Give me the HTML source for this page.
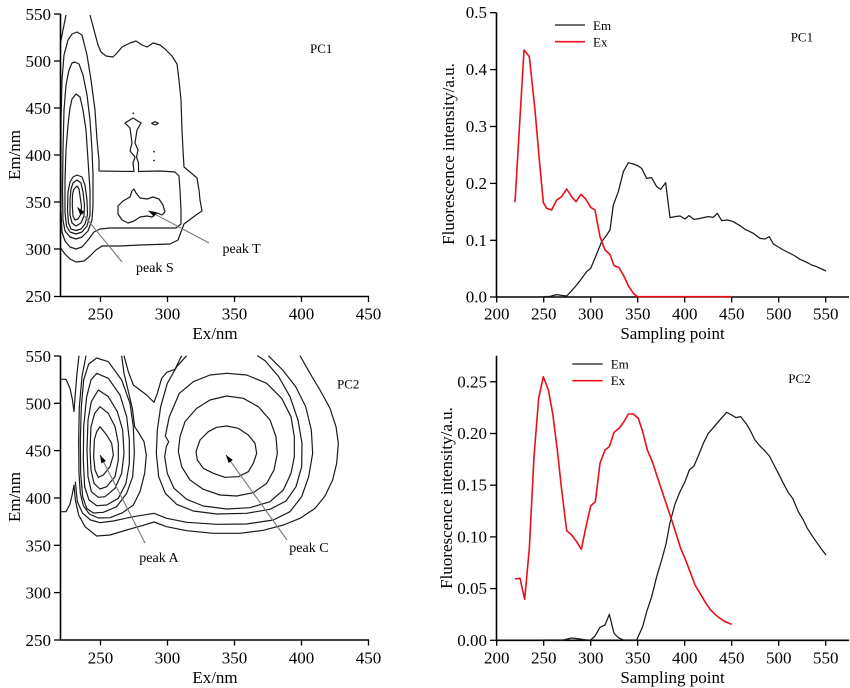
<!DOCTYPE html>
<html><head><meta charset="utf-8"><style>
html,body{margin:0;padding:0;background:#fff;}
svg{display:block;font-family:"Liberation Serif","Times New Roman",serif;}
.c{fill:none;stroke:#1a1a1a;stroke-width:1.2;stroke-linejoin:round;}
.z{fill:none;stroke:#1a1a1a;stroke-width:1.2;vector-effect:non-scaling-stroke;stroke-linejoin:round;}
.ax{stroke:#000;stroke-width:1.6;fill:none;}
.tk{stroke:#000;stroke-width:1.3;}
.bl{fill:none;stroke:#1a1a1a;stroke-width:1.25;vector-effect:non-scaling-stroke;stroke-linejoin:round;}
.rd{fill:none;stroke:#e8101a;stroke-width:1.6;vector-effect:non-scaling-stroke;stroke-linejoin:round;}
.arr{stroke:#777;stroke-width:1.1;fill:none;}
.t17{font-size:17px;fill:#000;}
.t13{font-size:13px;fill:#000;}
.t14{font-size:14px;fill:#000;}
</style></head><body>
<svg width="850" height="688" viewBox="0 0 850 688" xmlns="http://www.w3.org/2000/svg">
<defs>
<marker id="ah" markerUnits="userSpaceOnUse" viewBox="-9 -4 10 8" refX="0" refY="0" markerWidth="10" markerHeight="8" orient="auto-start-reverse">
<path d="M0,0 L-8,-2.6 L-8,2.6 z" fill="#000"/>
</marker>
</defs>

<!-- ===================== TOP-LEFT (PC1 contour) ===================== -->
<g>
<path class="c" d="M60.5,43 L63,30 L66,15"/>
<path class="c" d="M90,15 L94,30 L98,45 L101,52 L106,56 L113,57 L117,53 L122,47 L130,43 L136,41 L142,45 L147,47 L153,43 L160,45 L165,49 L172,56 L177,64 L179,80 L181,100 L182,130 L183,150 L184,167 L190,172 L197,178 L199,190 L200,200 L202,211 L196,215 L184,224 L181,232 L178,240 L170,244 L140,245 L120,246 L102,246 L96,250 L90,256 L84,261 L76,262 L70,259 L65,254 L60.5,248"/>
<path class="c" d="M99,171 L134,171.5 L133,163 L135,157 L130,151 L132,143 L130,128 L125,123 L133,118 L141,123 L137,130 L135,143 L138,150 L136.5,157 L138.5,163 L138.5,171.5 L160,171 L175,172 L179,176 L180,190 L181,210 L181,224 L176,228 L140,228 L110,228 L100,229 L94,232 L88,240 L82,247 L76,249 L70,247 L65,241 L62,232 L61,210 L61,170 L61,120 L62,80 L64,55 L68,40 L72,34 L77,32 L82,35 L87,55 L91,80 L95,110 L97,140 L99,160 Z"/>
<path class="c" d="M75,62 L79,64 L83,75 L87,95 L90,120 L92,150 L93,175 L93,205 L92,220 L88,231 L82,237 L76,239 L70,237 L65,231 L63,220 L62.5,190 L63,150 L64,110 L66,85 L69,70 L72,63 Z"/>
<path class="c" d="M76,94 L80,97 L83,110 L86,130 L88,160 L90,190 L90,215 L87,226 L82,232 L76,234 L70,232 L66.5,226 L65,212 L65,180 L66,150 L68,125 L70,108 L72,99 Z"/>
<path class="c" d="M77,175 L82,177 L85,185 L87,200 L87.5,215 L85,224 L81,229 L76,230.5 L71,229 L68.5,223 L67.5,210 L68,192 L70,182 L73,177 Z"/>
<path class="c" d="M77,180 L81,183 L83,192 L84.5,205 L84,216 L81,223 L76,226 L72,223 L70,215 L70,200 L71,189 L73,183 Z"/>
<path class="c" d="M75,188 L77,186 L79,189 L80,196 L81.5,206 L81,214 L78,219 L75,220 L73,216 L72.3,205 L72.5,195 L73.5,190 Z"/>
<path class="c" d="M118,206 L123,201 L130,197 L132,191 L134,189 L136,193 L140,198 L147,199 L153,197 L159,199 L163,205 L165,212 L162,215 L157,213 L152,217 L147,216 L140,217 L134,221 L128,223 L122,220 L118,214 Z"/>
<path class="c" d="M151.7,123.3 L155,121.7 L158.3,123.3 L155,125 Z"/>
<circle cx="133.3" cy="113.3" r="0.9" fill="#222"/>
<circle cx="154" cy="151.7" r="0.9" fill="#222"/>
<circle cx="154" cy="160.5" r="0.9" fill="#222"/>
<line class="arr" x1="77.3" y1="207.3" x2="122" y2="262" marker-start="url(#ah)"/>
<line class="arr" x1="148.3" y1="210.7" x2="209" y2="243" marker-start="url(#ah)"/>
<text class="t14" x="136" y="272">peak S</text>
<text class="t14" x="222.5" y="253">peak T</text>
<text class="t13" x="310" y="53">PC1</text>
<!-- axes -->
<path class="ax" d="M60.5,14 L60.5,296.5 L369,296.5"/>
<g class="tk">
<line x1="54" y1="14" x2="60.5" y2="14"/><line x1="54" y1="61" x2="60.5" y2="61"/><line x1="54" y1="108" x2="60.5" y2="108"/><line x1="54" y1="155" x2="60.5" y2="155"/><line x1="54" y1="202" x2="60.5" y2="202"/><line x1="54" y1="249" x2="60.5" y2="249"/><line x1="54" y1="296.5" x2="60.5" y2="296.5"/>
<line x1="100.5" y1="296.5" x2="100.5" y2="302"/><line x1="167.5" y1="296.5" x2="167.5" y2="302"/><line x1="234.5" y1="296.5" x2="234.5" y2="302"/><line x1="301.5" y1="296.5" x2="301.5" y2="302"/><line x1="368.5" y1="296.5" x2="368.5" y2="302"/>
</g>
<g class="t17" text-anchor="end">
<text x="51" y="20">550</text><text x="51" y="67">500</text><text x="51" y="114">450</text><text x="51" y="161">400</text><text x="51" y="208">350</text><text x="51" y="255">300</text><text x="51" y="302">250</text>
</g>
<g class="t17" text-anchor="middle">
<text x="100.5" y="319.5">250</text><text x="167.5" y="319.5">300</text><text x="234.5" y="319.5">350</text><text x="301.5" y="319.5">400</text><text x="368.5" y="319.5">450</text>
<text x="215" y="339">Ex/nm</text>
<text transform="translate(20,155) rotate(-90)">Em/nm</text>
</g>
</g>

<!-- ===================== BOTTOM-LEFT (PC2 contour) ===================== -->
<g transform="translate(0,340) scale(0.333333)">
<path class="z" d="M180,118 L198,118 L210,145 L217,178 L222,215 L226,160 L231,100 L237,47"/>
<path class="z" d="M180,515 L198,515 L210,492 L217,462 L222,435 L226,480 L236,525 L255,560 L290,588 L330,585 L380,570 L430,556 L462,546 L500,560 L560,572 L640,580 L720,580 L790,571 L850,555 L900,535 L945,505 L975,468 L998,420 L1010,370 L1015,310 L1008,260 L990,205 L960,150 L930,100 L900,47"/>
<path class="z" d="M226,425 L232,485 L248,520 L272,540 L300,548 L340,543 L400,530 L462,520 L500,535 L560,547 L650,553 L740,552 L820,540 L870,515 L905,470 L926,410 L938,340 L934,270 L917,200 L887,140 L848,90 L805,47"/>
<path class="z" d="M300,260 L320,285 L335,310 L340,345 L330,380 L310,405 L295,412 L285,390 L281,350 L283,300 L290,275 Z"/>
<path class="z" d="M300,200 L325,220 L345,260 L355,310 L355,360 L345,410 L320,440 L300,447 L282,430 L273,390 L270,330 L273,260 L284,220 Z"/>
<path class="z" d="M295,150 L325,170 L352,215 L368,270 L372,340 L365,400 L345,445 L315,470 L295,472 L274,455 L264,410 L261,330 L264,240 L274,185 Z"/>
<path class="z" d="M290,100 L325,115 L360,165 L380,230 L388,300 L388,370 L378,430 L355,475 L320,495 L290,497 L267,480 L254,440 L250,360 L251,260 L260,170 L273,120 Z"/>
<path class="z" d="M290,54 L325,65 L365,120 L390,190 L400,260 L403,340 L398,410 L380,460 L350,500 L310,517 L280,519 L260,505 L248,470 L242,400 L241,300 L244,200 L251,120 L266,72 Z"/>
<path class="z" d="M258,47 L246,110 L238,200 L236,300 L237,400 L241,460 L250,497 L268,522 L295,534 L330,533 L368,518 L400,495 L420,455 L434,400 L439,345 L432,305 L416,278 L404,260 L397,205 L384,150 L372,100 L365,47"/>
<path class="z" d="M372,47 L385,95 L400,135 L420,150 L440,165 L462,187 L472,160 L485,115 L500,97 L525,88 L545,47"/>
<path class="z" d="M680,258 L715,265 L745,285 L765,310 L770,340 L760,370 L745,395 L715,410 L675,412 L640,400 L610,385 L592,360 L588,335 L600,300 L625,275 L650,262 Z"/>
<path class="z" d="M680,168 L730,175 L775,200 L810,240 L828,290 L832,340 L822,390 L800,430 L760,458 L710,468 L660,465 L610,448 L570,420 L545,380 L535,335 L540,290 L555,245 L590,205 L630,180 Z"/>
<path class="z" d="M680,100 L740,105 L800,130 L845,175 L873,230 L883,290 L883,350 L873,400 L850,450 L810,485 L750,503 L680,507 L610,498 L560,478 L522,445 L502,400 L494,350 L499,320 L506,305 L496,288 L508,230 L538,160 L580,125 L630,105 Z"/>
<path class="z" d="M560,47 L530,80 L502,130 L482,200 L472,270 L469,340 L476,410 L496,460 L530,493 L580,513 L650,522 L740,520 L810,508 L858,483 L888,440 L905,380 L906,310 L894,240 L870,170 L836,110 L795,62 L772,47"/>
</g>
<g>
<line class="arr" x1="100" y1="455" x2="145" y2="543" marker-start="url(#ah)"/>
<line class="arr" x1="226" y1="455" x2="287" y2="540" marker-start="url(#ah)"/>
<text class="t14" x="139.3" y="562">peak A</text>
<text class="t14" x="289.3" y="552">peak C</text>
<text class="t13" x="337" y="388.5">PC2</text>
<path class="ax" d="M60.5,356 L60.5,640 L369,640"/>
<g class="tk">
<line x1="54" y1="356" x2="60.5" y2="356"/><line x1="54" y1="403.3" x2="60.5" y2="403.3"/><line x1="54" y1="450.6" x2="60.5" y2="450.6"/><line x1="54" y1="498" x2="60.5" y2="498"/><line x1="54" y1="545.3" x2="60.5" y2="545.3"/><line x1="54" y1="592.6" x2="60.5" y2="592.6"/><line x1="54" y1="640" x2="60.5" y2="640"/>
<line x1="100.5" y1="640" x2="100.5" y2="645.5"/><line x1="167.5" y1="640" x2="167.5" y2="645.5"/><line x1="234.5" y1="640" x2="234.5" y2="645.5"/><line x1="301.5" y1="640" x2="301.5" y2="645.5"/><line x1="368.5" y1="640" x2="368.5" y2="645.5"/>
</g>
<g class="t17" text-anchor="end">
<text x="51" y="362">550</text><text x="51" y="409.3">500</text><text x="51" y="456.6">450</text><text x="51" y="504">400</text><text x="51" y="551.3">350</text><text x="51" y="598.6">300</text><text x="51" y="646">250</text>
</g>
<g class="t17" text-anchor="middle">
<text x="100.5" y="663.5">250</text><text x="167.5" y="663.5">300</text><text x="234.5" y="663.5">350</text><text x="301.5" y="663.5">400</text><text x="368.5" y="663.5">450</text>
<text x="215" y="683">Ex/nm</text>
<text transform="translate(20,497) rotate(-90)">Em/nm</text>
</g>
</g>

<!-- ===================== TOP-RIGHT (PC1 spectra) ===================== -->
<g>
<path class="ax" d="M496.5,12.7 L496.5,297 L849,297"/>
<g class="tk">
<line x1="490" y1="12.7" x2="496.5" y2="12.7"/><line x1="490" y1="69.6" x2="496.5" y2="69.6"/><line x1="490" y1="126.5" x2="496.5" y2="126.5"/><line x1="490" y1="183.4" x2="496.5" y2="183.4"/><line x1="490" y1="240.3" x2="496.5" y2="240.3"/><line x1="490" y1="297" x2="496.5" y2="297"/>
<line x1="496.7" y1="297" x2="496.7" y2="302.5"/><line x1="543.7" y1="297" x2="543.7" y2="302.5"/><line x1="590.7" y1="297" x2="590.7" y2="302.5"/><line x1="637.7" y1="297" x2="637.7" y2="302.5"/><line x1="684.7" y1="297" x2="684.7" y2="302.5"/><line x1="731.7" y1="297" x2="731.7" y2="302.5"/><line x1="778.7" y1="297" x2="778.7" y2="302.5"/><line x1="825.7" y1="297" x2="825.7" y2="302.5"/>
</g>
<g class="t17" text-anchor="end">
<text x="487" y="18.2">0.5</text><text x="487" y="75.1">0.4</text><text x="487" y="132">0.3</text><text x="487" y="188.9">0.2</text><text x="487" y="245.8">0.1</text><text x="487" y="302.5">0.0</text>
</g>
<g class="t17" text-anchor="middle">
<text x="496.7" y="319.5">200</text><text x="543.7" y="319.5">250</text><text x="590.7" y="319.5">300</text><text x="637.7" y="319.5">350</text><text x="684.7" y="319.5">400</text><text x="731.7" y="319.5">450</text><text x="778.7" y="319.5">500</text><text x="825.7" y="319.5">550</text>
<text x="672.5" y="339">Sampling point</text>
<text transform="translate(454,154) rotate(-90)">Fluorescence intensity/a.u.</text>
</g>
<line x1="555" y1="25" x2="585" y2="25" stroke="#1a1a1a" stroke-width="1.2"/>
<line x1="555" y1="41.7" x2="585" y2="41.7" stroke="#e8101a" stroke-width="1.6"/>
<text class="t13" x="593" y="30">Em</text>
<text class="t13" x="593" y="46.5">Ex</text>
<text class="t13" x="790.7" y="41.5">PC1</text>
</g>
<g transform="translate(420,0) scale(0.333333)">
<path class="bl" d="M370,890 L390,889 L410,884 L425,886 L440,888 L455,872 L470,855 L485,835 L500,815 L512,805 L530,762 L545,725 L558,708 L570,690 L580,615 L595,575 L610,515 L625,488 L640,492 L655,498 L665,505 L680,535 L695,533 L710,560 L722,568 L737,548 L750,653 L765,650 L780,648 L795,657 L807,647 L822,658 L837,656 L850,653 L865,650 L880,652 L892,640 L905,662 L922,660 L940,665 L960,677 L975,688 L1000,700 L1020,715 L1035,717 L1048,710 L1060,732 L1090,750 L1120,765 L1140,778 L1160,787 L1175,795 L1190,800 L1218,813"/>
<path class="rd" d="M285,607 L312,150 L328,170 L345,330 L358,480 L370,608 L380,625 L395,630 L410,600 L425,590 L440,567 L455,590 L468,605 L483,583 L497,597 L512,622 L525,630 L540,710 L555,750 L570,763 L582,797 L597,803 L610,825 L625,857 L640,880 L652,890 L935,890"/>
</g>

<!-- ===================== BOTTOM-RIGHT (PC2 spectra) ===================== -->
<g>
<path class="ax" d="M496.5,355.7 L496.5,640.3 L849,640.3"/>
<g class="tk">
<line x1="490" y1="381.8" x2="496.5" y2="381.8"/><line x1="490" y1="433.5" x2="496.5" y2="433.5"/><line x1="490" y1="485.2" x2="496.5" y2="485.2"/><line x1="490" y1="536.9" x2="496.5" y2="536.9"/><line x1="490" y1="588.6" x2="496.5" y2="588.6"/><line x1="490" y1="640.3" x2="496.5" y2="640.3"/>
<line x1="496.7" y1="640.3" x2="496.7" y2="645.8"/><line x1="543.7" y1="640.3" x2="543.7" y2="645.8"/><line x1="590.7" y1="640.3" x2="590.7" y2="645.8"/><line x1="637.7" y1="640.3" x2="637.7" y2="645.8"/><line x1="684.7" y1="640.3" x2="684.7" y2="645.8"/><line x1="731.7" y1="640.3" x2="731.7" y2="645.8"/><line x1="778.7" y1="640.3" x2="778.7" y2="645.8"/><line x1="825.7" y1="640.3" x2="825.7" y2="645.8"/>
</g>
<g class="t17" text-anchor="end">
<text x="487" y="387.3">0.25</text><text x="487" y="439">0.20</text><text x="487" y="490.7">0.15</text><text x="487" y="542.4">0.10</text><text x="487" y="594.1">0.05</text><text x="487" y="645.8">0.00</text>
</g>
<g class="t17" text-anchor="middle">
<text x="496.7" y="663.5">200</text><text x="543.7" y="663.5">250</text><text x="590.7" y="663.5">300</text><text x="637.7" y="663.5">350</text><text x="684.7" y="663.5">400</text><text x="731.7" y="663.5">450</text><text x="778.7" y="663.5">500</text><text x="825.7" y="663.5">550</text>
<text x="672.5" y="683">Sampling point</text>
<text transform="translate(452,498) rotate(-90)">Fluorescence intensity/a.u.</text>
</g>
<line x1="572.3" y1="364" x2="602.7" y2="364" stroke="#1a1a1a" stroke-width="1.2"/>
<line x1="572.3" y1="380.7" x2="602.7" y2="380.7" stroke="#e8101a" stroke-width="1.6"/>
<text class="t13" x="610.7" y="368.5">Em</text>
<text class="t13" x="610.7" y="385">Ex</text>
<text class="t13" x="788.3" y="383">PC2</text>
</g>
<g transform="translate(420,340) scale(0.333333)">
<path class="bl" d="M370,900 L430,900 L455,894 L480,897 L500,900 L512,900 L525,888 L540,862 L555,855 L568,823 L582,880 L595,893 L610,900 L650,900 L668,860 L680,815 L695,770 L710,710 L725,660 L738,612 L750,548 L765,492 L780,455 L795,425 L808,390 L822,378 L838,340 L850,310 L865,280 L880,263 L895,245 L920,217 L935,225 L948,233 L962,230 L978,250 L990,270 L1005,300 L1020,318 L1035,333 L1048,348 L1062,375 L1075,400 L1090,430 L1105,458 L1118,475 L1135,515 L1150,540 L1162,565 L1177,588 L1190,607 L1205,628 L1218,645"/>
<path class="rd" d="M285,717 L300,715 L314,778 L328,625 L342,350 L356,175 L370,110 L385,150 L398,220 L412,330 L425,450 L440,572 L455,585 L470,605 L484,628 L498,560 L512,498 L526,485 L540,370 L555,330 L568,320 L582,277 L597,265 L612,245 L625,222 L640,222 L655,235 L668,275 L682,330 L697,365 L710,405 L725,450 L740,495 L755,540 L768,580 L782,625 L797,660 L812,700 L825,735 L840,760 L855,785 L870,808 L885,823 L900,835 L915,845 L935,853"/>
</g>
</svg>
</body></html>
